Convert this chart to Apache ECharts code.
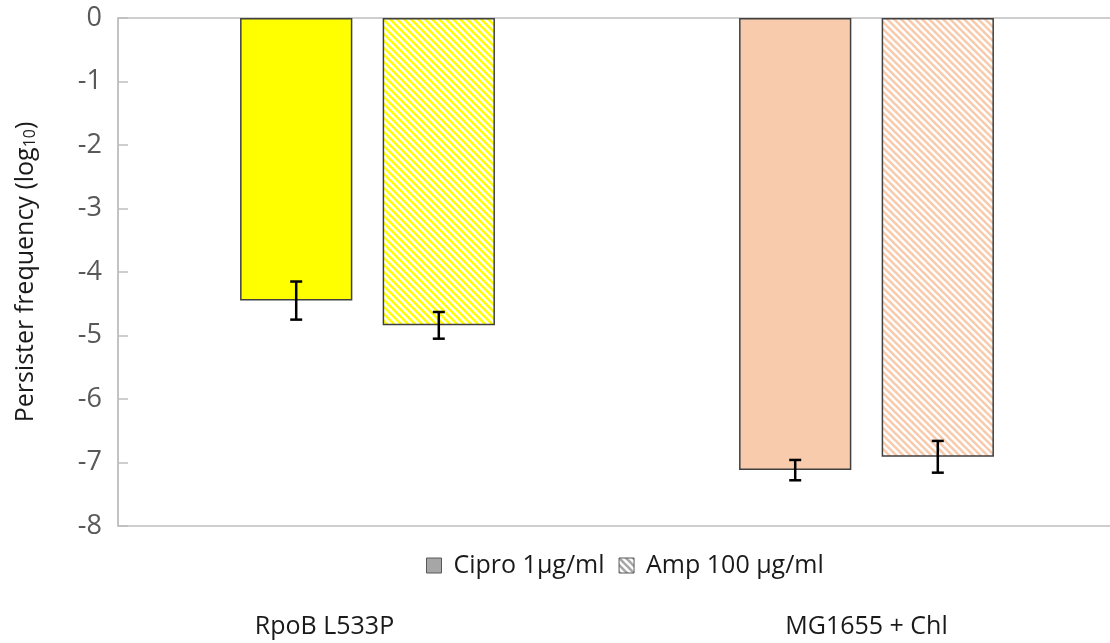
<!DOCTYPE html>
<html>
<head>
<meta charset="utf-8">
<script src="https://cdn.jsdelivr.net/npm/echarts@6/dist/echarts.min.js"></script>
<style>
    html, body { margin: 0; padding: 0; background: #fff; }
    #chart { width: 1110px; height: 643px; }
</style>
</head>
<body>
<div id="chart"></div>
<script>
// 数据
var categories = ['RpoB L533P', 'MG1655 + Chl'];
var seriesNames = ['Cipro 1μg/ml', 'Amp 100 μg/ml'];
var ciproValues = [-4.45, -7.12];
var ampValues = [-4.84, -6.91];
var ciproErr = [0.30, 0.16];
var ampErr = [0.21, 0.25];
var groupColors = ['#ffff00', '#f8cbad'];

// 斜线填充
function stripe(color) {
    var n = 7;
    var c = document.createElement('canvas');
    c.width = n; c.height = n;
    var ctx = c.getContext('2d');
    ctx.fillStyle = '#fff';
    ctx.fillRect(0, 0, n, n);
    ctx.strokeStyle = color;
    ctx.lineWidth = 2.6;
    for (var k = -1; k <= 1; k++) {
        ctx.beginPath();
        ctx.moveTo(k * n - 1, -1);
        ctx.lineTo(k * n + n + 1, n + 1);
        ctx.stroke();
    }
    return { image: c, repeat: 'repeat' };
}

var BAR_W = 0.225, GAP = 0.27;

(function () {
    let myEchart = echarts.init(document.getElementById('chart'));

    function errSeries(values, errs, side) {
        return {
            type: 'custom',
            z: 10,
            data: values.map(function (v, i) { return [i, v, errs[i]]; }),
            renderItem: function (params, api) {
                var i = api.value(0), v = api.value(1), e = api.value(2);
                var bw = api.size([1, 0])[0];
                var w = bw * BAR_W;
                var off = side * (w + w * GAP) / 2;
                var c = api.coord([i, v]);
                var x = c[0] + off;
                var top = api.coord([i, v + e])[1];
                var bot = api.coord([i, v - e])[1];
                var st = { stroke: '#000', lineWidth: 2.5 };
                return {
                    type: 'group',
                    children: [
                        { type: 'line', shape: { x1: x, y1: top, x2: x, y2: bot }, style: st },
                        { type: 'line', shape: { x1: x - 6, y1: top, x2: x + 6, y2: top }, style: st },
                        { type: 'line', shape: { x1: x - 6, y1: bot, x2: x + 6, y2: bot }, style: st }
                    ]
                };
            }
        };
    }

    let option = {
        animation: false,
        textStyle: { fontFamily: 'Open Sans' },
        grid: {
            left: 118, top: 18, width: 998, bottom: 117,
            outerBoundsMode: 'none',
            containLabel: false,
            show: true,
            borderColor: '#bfbfbf',
            borderWidth: 1.5
        },
        legend: {
            data: [
                { name: seriesNames[0], itemStyle: { color: '#a6a6a6', borderColor: '#595959', borderWidth: 1 } },
                { name: seriesNames[1], itemStyle: { color: stripe('#a6a6a6'), borderColor: '#595959', borderWidth: 1 } }
            ],
            top: 548,
            left: 421,
            icon: 'rect',
            itemWidth: 15,
            itemHeight: 15,
            itemGap: 14,
            textStyle: { fontSize: 25, color: '#1a1a1a', fontFamily: 'Open Sans', padding: [0, 0, 0, 7] }
        },
        xAxis: {
            type: 'category',
            data: categories,
            position: 'bottom',
            axisLine: { show: false },
            axisTick: { show: false },
            axisLabel: {
                margin: 88,
                fontSize: 25,
                color: '#1a1a1a',
                formatter: function (v, i) { return i === 0 ? '{a|' + v + '}' : v; },
                rich: { a: { fontSize: 25, color: '#1a1a1a', padding: [0, 86, 0, 0] } }
            }
        },
        yAxis: {
            type: 'value',
            min: -8, max: 0, interval: 1,
            name: '{n|Persister frequency (log}{s|10}{n|)}',
            nameLocation: 'middle',
            nameGap: 80,
            nameRotate: 90,
            nameTextStyle: {
                rich: {
                    n: { fontSize: 25, color: '#1a1a1a', fontFamily: 'Open Sans' },
                    s: { fontSize: 16, color: '#1a1a1a', fontFamily: 'Open Sans', verticalAlign: 'bottom', padding: [8, 0, 0, 0] }
                }
            },
            axisLine: { show: true, lineStyle: { color: '#bfbfbf', width: 1.5 } },
            axisTick: { show: true, inside: true, length: 10, lineStyle: { color: '#bfbfbf', width: 1.5 } },
            axisLabel: { fontSize: 27, color: '#595959', margin: 16 },
            splitLine: { show: false }
        },
        series: [
            {
                name: seriesNames[0],
                type: 'bar',
                barWidth: (BAR_W * 100) + '%',
                barGap: (GAP * 100) + '%',
                itemStyle: { color: '#a6a6a6', borderColor: '#404040', borderWidth: 1.5 },
                data: ciproValues.map(function (v, i) {
                    return { value: v, itemStyle: { color: groupColors[i], borderColor: '#404040', borderWidth: 1.5 } };
                })
            },
            {
                name: seriesNames[1],
                type: 'bar',
                barWidth: (BAR_W * 100) + '%',
                itemStyle: { color: stripe('#a6a6a6'), borderColor: '#404040', borderWidth: 1.5 },
                data: ampValues.map(function (v, i) {
                    return { value: v, itemStyle: { color: stripe(groupColors[i]), borderColor: '#404040', borderWidth: 1.5 } };
                })
            },
            errSeries(ciproValues, ciproErr, -1),
            errSeries(ampValues, ampErr, 1)
        ]
    };
    myEchart.setOption(option);
})();
</script>
</body>
</html>
